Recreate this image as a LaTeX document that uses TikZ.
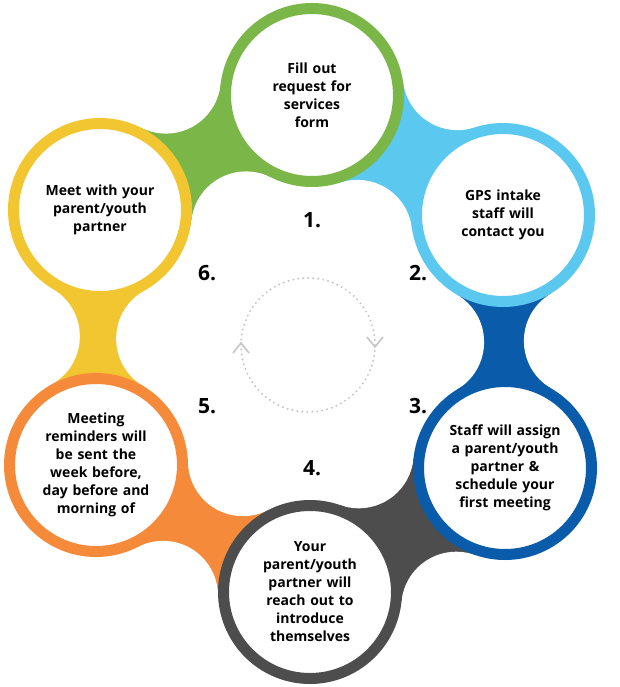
\documentclass[tikz,border=0pt]{standalone}
\usepackage{fontspec}
\setmainfont{Open Sans}
\usetikzlibrary{calc}
\definecolor{cA}{HTML}{7AB648}
\definecolor{cB}{HTML}{5BC8F0}
\definecolor{cC}{HTML}{0A5BAA}
\definecolor{cD}{HTML}{4D4D4D}
\definecolor{cE}{HTML}{F58A3A}
\definecolor{cF}{HTML}{F2C630}
\newcommand\mybridge[3]{%
 \path let \p1=(#1), \p2=(#2), \n1={veclen(\x2-\x1,\y2-\y1)/2}, \n2={sqrt((147-\n1)*(147+\n1))} in
  coordinate (fo#1#2) at ($(#1)!.5!(#2)!\n2!90:(#2)$)
  coordinate (fi#1#2) at ($(#1)!.5!(#2)!\n2!-90:(#2)$);
 \fill[#3] (#1)--(fo#1#2)--(#2)--(fi#1#2)--cycle;}
\newcommand\myfillet[2]{\fill[white] (fo#1#2) circle (55pt) (fi#1#2) circle (55pt);}
\begin{document}
\begin{tikzpicture}[x=1pt,y=-1pt,
  step circle/.style={circle,fill=white,draw=#1,line width=11pt,minimum size=173pt,inner sep=0pt,
     align=center,font=\fontsize{14}{18}\selectfont\bfseries,text width=130pt},
  num/.style={font=\fontsize{21}{24}\selectfont\bfseries}]
\useasboundingbox (0,0) rectangle (620,687);
\coordinate (a) at (312,95);
\coordinate (b) at (503,215);
\coordinate (c) at (505,468);
\coordinate (d) at (310,592);
\coordinate (e) at (96,465);
\coordinate (f) at (100,210);
\mybridge{a}{b}{cB}
\mybridge{b}{c}{cC}
\mybridge{c}{d}{cD}
\mybridge{d}{e}{cE}
\mybridge{e}{f}{cF}
\mybridge{f}{a}{cA}
\myfillet{a}{b}\myfillet{b}{c}\myfillet{c}{d}\myfillet{d}{e}\myfillet{e}{f}\myfillet{f}{a}
\node[step circle=cA] (n1) at (a) {Fill out\\request for\\services\\form};
\node[step circle=cB] (n2) at (b) {GPS intake\\staff will\\contact you};
\node[step circle=cC] (n3) at (c) {Staff will assign\\a parent/youth\\partner \&\\schedule your\\first meeting};
\node[step circle=cD] (n4) at (d) {Your\\parent/youth\\partner will\\reach out to\\introduce\\themselves};
\node[step circle=cE] (n5) at (e) {Meeting\\reminders will\\be sent the\\week before,\\day before and\\morning of};
\node[step circle=cF] (n6) at (f) {Meet with your\\parent/youth\\partner};
\node[num] (l1) at (312,220) {1.};
\node[num] (l2) at (418,273) {2.};
\node[num] (l3) at (418,406) {3.};
\node[num] (l4) at (312,468) {4.};
\node[num] (l5) at (207,406) {5.};
\node[num] (l6) at (207,273) {6.};
\coordinate (ctr) at (308,345);
\draw[gray!45,line width=2.2pt,dash pattern=on 0pt off 5pt,line cap=round] (ctr) circle (67pt);
\draw[gray!45,line width=1.6pt] ($(ctr)+(-75,8)$) -- ($(ctr)+(-67,-2)$) -- ($(ctr)+(-59,8)$);
\draw[gray!45,line width=1.6pt] ($(ctr)+(59,-8)$) -- ($(ctr)+(67,2)$) -- ($(ctr)+(75,-8)$);
\end{tikzpicture}
\end{document}
